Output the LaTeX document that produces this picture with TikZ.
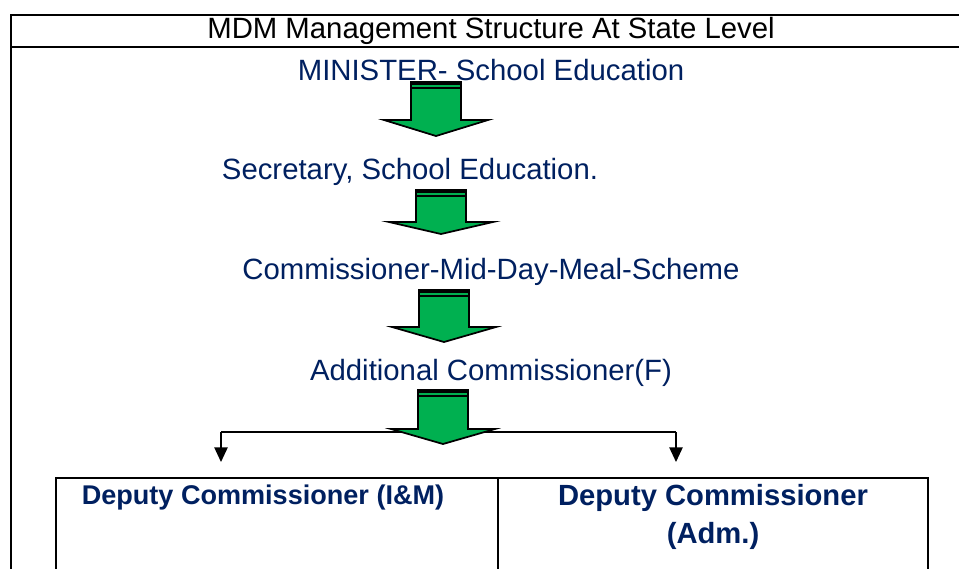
\documentclass[tikz,border=0pt]{standalone}
\usepackage{fontspec}
\setmainfont{Liberation Sans}
\usetikzlibrary{arrows.meta}
\definecolor{navy}{RGB}{0,32,96}
\definecolor{offgreen}{RGB}{0,176,80}
\newcommand\greenblockarrow[4]{% cx, top, base, tip
  \fill[offgreen,draw=black,line width=1.3pt,line join=miter]
    ({#1-25},#2) -- ({#1+25},#2) -- ({#1+25},#3) -- ({#1+52},#3) -- (#1,#4)
    -- ({#1-52},#3) -- ({#1-25},#3) -- cycle;
  \fill[black] ({#1-25},{#2-1}) rectangle ({#1+25},{#2+3});
  \fill[black] ({#1-25},{#2+5}) rectangle ({#1+25},{#2+7});
}
\begin{document}
\begin{tikzpicture}[x=0.75pt,y=-0.75pt,
  frameline/.style={line width=1.6pt},
  plain/.style={font=\fontsize{22pt}{26pt}\selectfont},
  lvl/.style={font=\fontsize{22pt}{26pt}\selectfont,text=navy},
  dep/.style={font=\bfseries\fontsize{20.3pt}{28.5pt}\selectfont,text=navy,align=center},
  depbig/.style={font=\bfseries\fontsize{21.9pt}{28.5pt}\selectfont,text=navy,align=center},
  split/.style={line width=1.1pt,-{Triangle[length=11pt,width=10pt]}}]
\useasboundingbox (0,0) rectangle (959,568);
% outer frame
\draw[frameline] (962,15) -- (11,15) -- (11,570);
\draw[frameline] (11,47) -- (962,47);
\node[plain] (title) at (491,31) {MDM Management Structure At State Level};
% levels
\node[lvl] (min) at (491,70) {MINISTER- School Education};
\node[lvl] (sec) at (410,172) {Secretary, School Education.};
\node[lvl] (com) at (491,272) {Commissioner-Mid-Day-Meal-Scheme};
\node[lvl] (add) at (491,373) {Additional Commissioner(F)};
% split connector (behind last arrow)
\coordinate (jl) at (221,432);
\coordinate (jr) at (676,432);
\coordinate (tl) at (221,462);
\coordinate (tr) at (676,462);
\draw[line width=1.1pt] (jl) -- (jr);
\draw[split] (jl) -- (tl);
\draw[split] (jr) -- (tr);
% block arrows
\greenblockarrow{436}{82}{120}{136}
\greenblockarrow{441}{190}{222}{234}
\greenblockarrow{444}{290}{327}{342}
\greenblockarrow{443}{390}{429}{444}
% lower table
\draw[frameline] (56,570) -- (56,478) -- (928,478) -- (928,570);
\draw[frameline] (498,478) -- (498,570);
\node[dep] (dc1) at (263,497) {Deputy Commissioner (I\&M)};
\node[depbig,anchor=north] (dc2) at (713,480) {Deputy Commissioner\\(Adm.)};
\end{tikzpicture}
\end{document}
